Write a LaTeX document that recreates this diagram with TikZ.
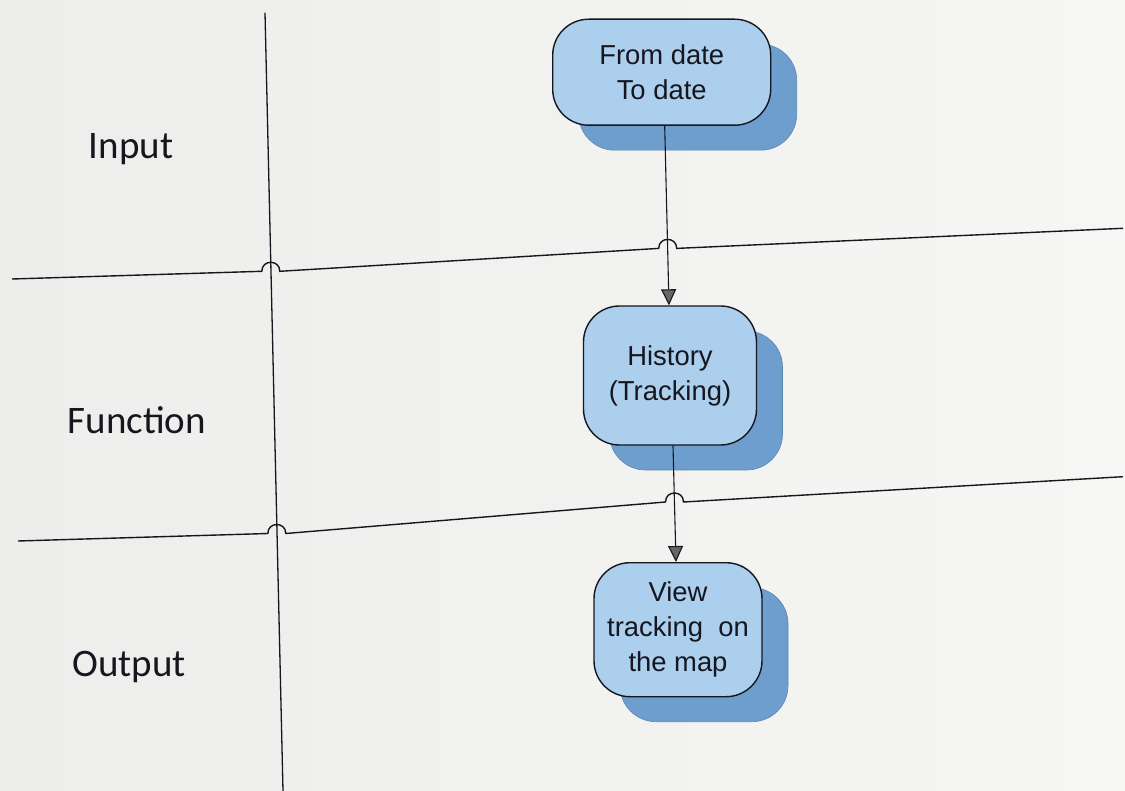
\documentclass[tikz,border=0pt]{standalone}
\usepackage{fontspec}
\setmainfont{Liberation Sans}
\newfontfamily\lanefont{Carlito}
\usetikzlibrary{arrows.meta,shadows,calc}
\definecolor{paperL}{RGB}{237,237,236}
\definecolor{paperR}{RGB}{246,246,245}
\definecolor{boxfill}{RGB}{172,207,238}
\definecolor{boxshade}{RGB}{110,158,206}
\definecolor{ink}{RGB}{22,22,30}
\begin{document}
\begin{tikzpicture}[x=1pt,y=-1pt,
  lane/.style={font=\lanefont\fontsize{39}{46}\selectfont, text=ink},
  stepbox/.style={draw=ink, line width=1.4pt, fill=boxfill, rounded corners=36pt,
    align=center, font=\fontsize{27.4}{35}\selectfont, text=ink, inner sep=0pt,
    copy shadow={shadow xshift=26pt, shadow yshift=-25pt, fill=boxshade,
      draw=boxshade!85!black, line width=0.6pt}},
  border/.style={line width=1.4pt, draw=ink},
  flow/.style={line width=1.1pt, draw=ink,
    -{Triangle[width=15pt,length=16pt,fill=black!60]}}]

% paper
\shade[left color=paperL, right color=paperR] (0,0) rectangle (1125,791);
\useasboundingbox (0,0) rectangle (1125,791);

% lane divider (vertical)
\coordinate (vtop) at (265,12.7);
\coordinate (vbot) at (283,791);
\draw[border, line width=1.3pt] (vtop) -- (vbot);

% lane dividers (horizontal) with hops over crossing lines
\draw[border] (12,279) -- (261.8,271.3)
  .. controls (261.8,259.3) and (279.8,259.3) .. (279.8,271.3)
  -- (658.7,248.4)
  .. controls (658.7,236.4) and (676.7,236.4) .. (676.7,248.4)
  -- (1123,228.3);
\draw[border] (18,541) -- (267.8,533.5)
  .. controls (267.8,521.5) and (285.8,521.5) .. (285.8,533.5)
  -- (665.5,502)
  .. controls (665.5,490) and (683.5,490) .. (683.5,502)
  -- (1123,476.7);

% lane titles
\node[lane] (lin)  at (131,149) {Input};
\node[lane] (lfun) at (137,420) {Function};
\node[lane] (lout) at (129,667) {Output};

% process steps
\node[stepbox, minimum width=218pt, minimum height=106pt] (b1) at (661.7,72.2)
  {From date\\To date};
\node[stepbox, minimum width=173pt, minimum height=139pt] (b2) at (670,375.5)
  {History\\(Tracking)};
\node[stepbox, minimum width=168pt, minimum height=134pt] (b3) at (678,629.7)
  {View\\tracking~~on\\the map};

% flow
\draw[flow] ($(b1.south)+(3,0)$) -- ($(b2.north)+(-1,0)$);
\draw[flow] ($(b2.south)+(3,0)$) -- ($(b3.north)+(-2,0)$);
\end{tikzpicture}
\end{document}
